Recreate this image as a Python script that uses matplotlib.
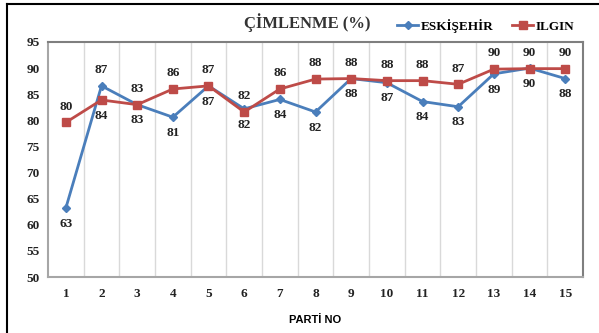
import matplotlib
matplotlib.use("Agg")
import matplotlib.pyplot as plt
from matplotlib.lines import Line2D

# data
parti = list(range(1, 16))
eskisehir = [63.2, 86.6, 83.0, 80.6, 86.6, 82.2, 84.0, 81.6, 88.0, 87.2, 83.6, 82.6, 88.9, 90.0, 88.0]
ilgin = [79.6, 83.9, 83.0, 86.0, 86.6, 81.6, 86.0, 87.9, 88.0, 87.6, 87.6, 86.9, 89.8, 89.9, 89.9]
yticks = list(range(50, 96, 5))

blue = "#4A7EBB"
red = "#BE4B48"
serif = "Liberation Serif"

fig = plt.figure(figsize=(5.99, 3.33), dpi=100)
ax = fig.add_axes([48 / 599, 1 - 277 / 333, 535 / 599, 235 / 333])

ax.plot(parti, eskisehir, color=blue, lw=2, marker="D", ms=4, zorder=3)
ax.plot(parti, ilgin, color=red, lw=2, marker="s", ms=6, zorder=4)

lab = dict(fontsize=9.5, fontweight="bold", family=serif, ha="center", color="#222222")
for i, (e, g) in enumerate(zip(eskisehir, ilgin)):
    x = parti[i]
    if e > g + 1:
        # eskisehir label above, ilgin below
        ax.annotate("%.0f" % e, (x, e), xytext=(0, 7), textcoords="offset points", va="bottom", **lab)
        ax.annotate("%.0f" % g, (x, g), xytext=(0, -7), textcoords="offset points", va="top", **lab)
    else:
        ax.annotate("%.0f" % g, (x, g), xytext=(0, 7), textcoords="offset points", va="bottom", **lab)
        ax.annotate("%.0f" % e, (x, e), xytext=(0, -7), textcoords="offset points", va="top", **lab)

ax.set_xlim(0.5, 15.5)
ax.set_ylim(50, 95)
ax.set_xticks(parti)
ax.set_yticks(yticks)
ax.set_xticks([p + 0.5 for p in parti[:-1]], minor=True)
ax.grid(which="minor", axis="x", color="#D9D9D9", lw=1)
ax.tick_params(which="both", length=0)
ax.tick_params(axis="x", pad=8)
ax.tick_params(axis="y", pad=6)
for t in ax.get_xticklabels() + ax.get_yticklabels():
    t.set_fontfamily(serif)
    t.set_fontweight("bold")
    t.set_fontsize(9.5)
    t.set_color("#222222")

for s in ["left", "bottom"]:
    ax.spines[s].set_color("#A6A6A6")
    ax.spines[s].set_linewidth(1.5)
for s in ["top", "right"]:
    ax.spines[s].set_color("#7F7F7F")
    ax.spines[s].set_linewidth(1.5)

ax.set_xlabel("PARTİ NO", fontsize=8, fontweight="bold", family="Liberation Sans", labelpad=11)

fig.text(307 / 599, 1 - 28 / 333, "ÇİMLENME (%)", fontsize=12, fontweight="bold",
         family=serif, ha="center", va="baseline", color="#333333")

handles = [Line2D([], [], color=blue, lw=2, marker="D", ms=4),
           Line2D([], [], color=red, lw=2, marker="s", ms=6)]
fig.legend(handles, ["ESKİŞEHİR", "ILGIN"], loc="center", bbox_to_anchor=(486 / 599, 1 - 26 / 333),
           ncol=2, frameon=False, handlelength=1.6, handletextpad=0.2, columnspacing=1.4,
           prop=dict(family=serif, weight="bold", size=9.5))

# outer frame (left and top edges visible in the reference)
fig.add_artist(Line2D([7 / 599, 7 / 599], [0, 1 - 4 / 333], color="black", lw=1.5))
fig.add_artist(Line2D([7 / 599, 1], [1 - 4 / 333, 1 - 4 / 333], color="black", lw=1.5))

fig.savefig("out.png", dpi=100, facecolor="white")
